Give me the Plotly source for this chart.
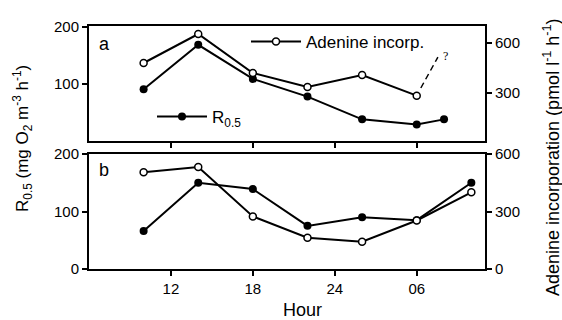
import plotly.graph_objects as go

# ---- data ----
hours_a_r = [10, 14, 18, 22, 26, 30, 32]
r05_a = [91, 169, 109, 78, 38, 29, 38]
hours_a_ad = [10, 14, 18, 22, 26, 30]
aden_a = [480, 654, 420, 336, 408, 284]
question_x = [30.3, 31.55]
question_y = [330, 515]

hours_b = [10, 14, 18, 22, 26, 30, 34]
r05_b = [66, 150, 139, 75, 90, 85, 150]
aden_b = [505, 532, 274, 163, 142, 253, 400]

tick_vals = [12, 18, 24, 30]
tick_text = ["12", "18", "24", "06"]

FONT = "Arial, Liberation Sans, Helvetica, sans-serif"
W, H = 562, 320
L, R, T, B = 89, 77, 26, 51
ph = H - T - B
def py(pix):
    return (H - B - pix) / ph
def px(pix):
    return (pix - L) / (W - L - R)

fig = go.Figure()

filled = dict(color="black", size=8, symbol="circle")
opened = dict(color="white", size=7, symbol="circle", line=dict(color="black", width=1.5))
line = dict(color="black", width=2)

# top panel
fig.add_trace(go.Scatter(x=hours_a_r, y=r05_a, xaxis="x2", yaxis="y3", mode="lines+markers",
                         line=line, marker=filled, name="R<sub>0.5</sub>", legend="legend"))
fig.add_trace(go.Scatter(x=hours_a_ad, y=aden_a, xaxis="x2", yaxis="y4", mode="lines+markers",
                         line=line, marker=opened, name="Adenine incorp.", legend="legend2"))
fig.add_trace(go.Scatter(x=question_x, y=question_y, xaxis="x2", yaxis="y4", mode="lines",
                         line=dict(color="black", width=1.5, dash="6px,4px"), showlegend=False))
# bottom panel
fig.add_trace(go.Scatter(x=hours_b, y=r05_b, xaxis="x", yaxis="y", mode="lines+markers",
                         line=line, marker=filled, showlegend=False))
fig.add_trace(go.Scatter(x=hours_b, y=aden_b, xaxis="x", yaxis="y2", mode="lines+markers",
                         line=line, marker=opened, showlegend=False))

tickfont = dict(family=FONT, size=15, color="black")
ax_common = dict(showline=True, linecolor="black", linewidth=2, ticks="outside", ticklen=5,
                 tickwidth=2, tickcolor="black", showgrid=False, zeroline=False, tickfont=tickfont)

top_dom = [py(141), 1]
bot_dom = [0, py(154)]

fig.update_layout(
    width=W, height=H, margin=dict(l=L, r=R, t=T, b=B),
    paper_bgcolor="white", plot_bgcolor="white",
    font=dict(family=FONT, size=15, color="black"),
    xaxis=dict(ax_common, domain=[0, 1], anchor="y", range=[6, 35], tickvals=tick_vals,
               ticktext=tick_text, mirror=True),
    xaxis2=dict(ax_common, domain=[0, 1], anchor="y3", range=[6, 35], tickvals=tick_vals,
                showticklabels=False, mirror=True),
    yaxis=dict(ax_common, domain=bot_dom, anchor="x", range=[0, 200], tickvals=[0, 100, 200]),
    yaxis2=dict(ax_common, overlaying="y", side="right", anchor="x", range=[0, 600],
                tickvals=[0, 300, 600]),
    yaxis3=dict(ax_common, domain=top_dom, anchor="x2", range=[0, 202], tickvals=[100, 200]),
    yaxis4=dict(ax_common, overlaying="y3", side="right", anchor="x2", range=[12, 702],
                tickvals=[300, 600]),
    legend=dict(x=px(152), y=py(117), xanchor="left", yanchor="middle", bgcolor="rgba(0,0,0,0)",
                font=dict(family=FONT, size=17), itemwidth=50),
    legend2=dict(x=px(246), y=py(42), xanchor="left", yanchor="middle", bgcolor="rgba(0,0,0,0)",
                 font=dict(family=FONT, size=17), itemwidth=50),
    showlegend=True,
)

ann = [
    dict(text="a", x=px(104), y=py(44), size=18),
    dict(text="b", x=px(104), y=py(170), size=18),
    dict(text="Hour", x=px(302), y=py(310), size=18),
]
for a in ann:
    fig.add_annotation(text=a["text"], x=a["x"], y=a["y"], xref="paper", yref="paper",
                       xanchor="center", yanchor="middle", showarrow=False,
                       font=dict(family=FONT, size=a["size"], color="black"))
fig.add_annotation(text="?", x=32.1, y=525, xref="x2", yref="y4", showarrow=False,
                   xanchor="center", yanchor="middle",
                   font=dict(family="Liberation Serif, Times New Roman, serif", size=12, color="black"))
fig.add_annotation(text="R<sub>0.5</sub> (mg O<sub>2</sub> m<sup>-3</sup> h<sup>-1</sup>)",
                   x=px(22), y=py(139), xref="paper", yref="paper", showarrow=False, textangle=-90,
                   xanchor="center", yanchor="middle",
                   font=dict(family=FONT, size=17, color="black"))
fig.add_annotation(text="Adenine incorporation (pmol l<sup>-1</sup> h<sup>-1</sup>)",
                   x=px(551), y=py(157), xref="paper", yref="paper", showarrow=False, textangle=-90,
                   xanchor="center", yanchor="middle",
                   font=dict(family=FONT, size=18, color="black"))

fig.write_html("out.html")
